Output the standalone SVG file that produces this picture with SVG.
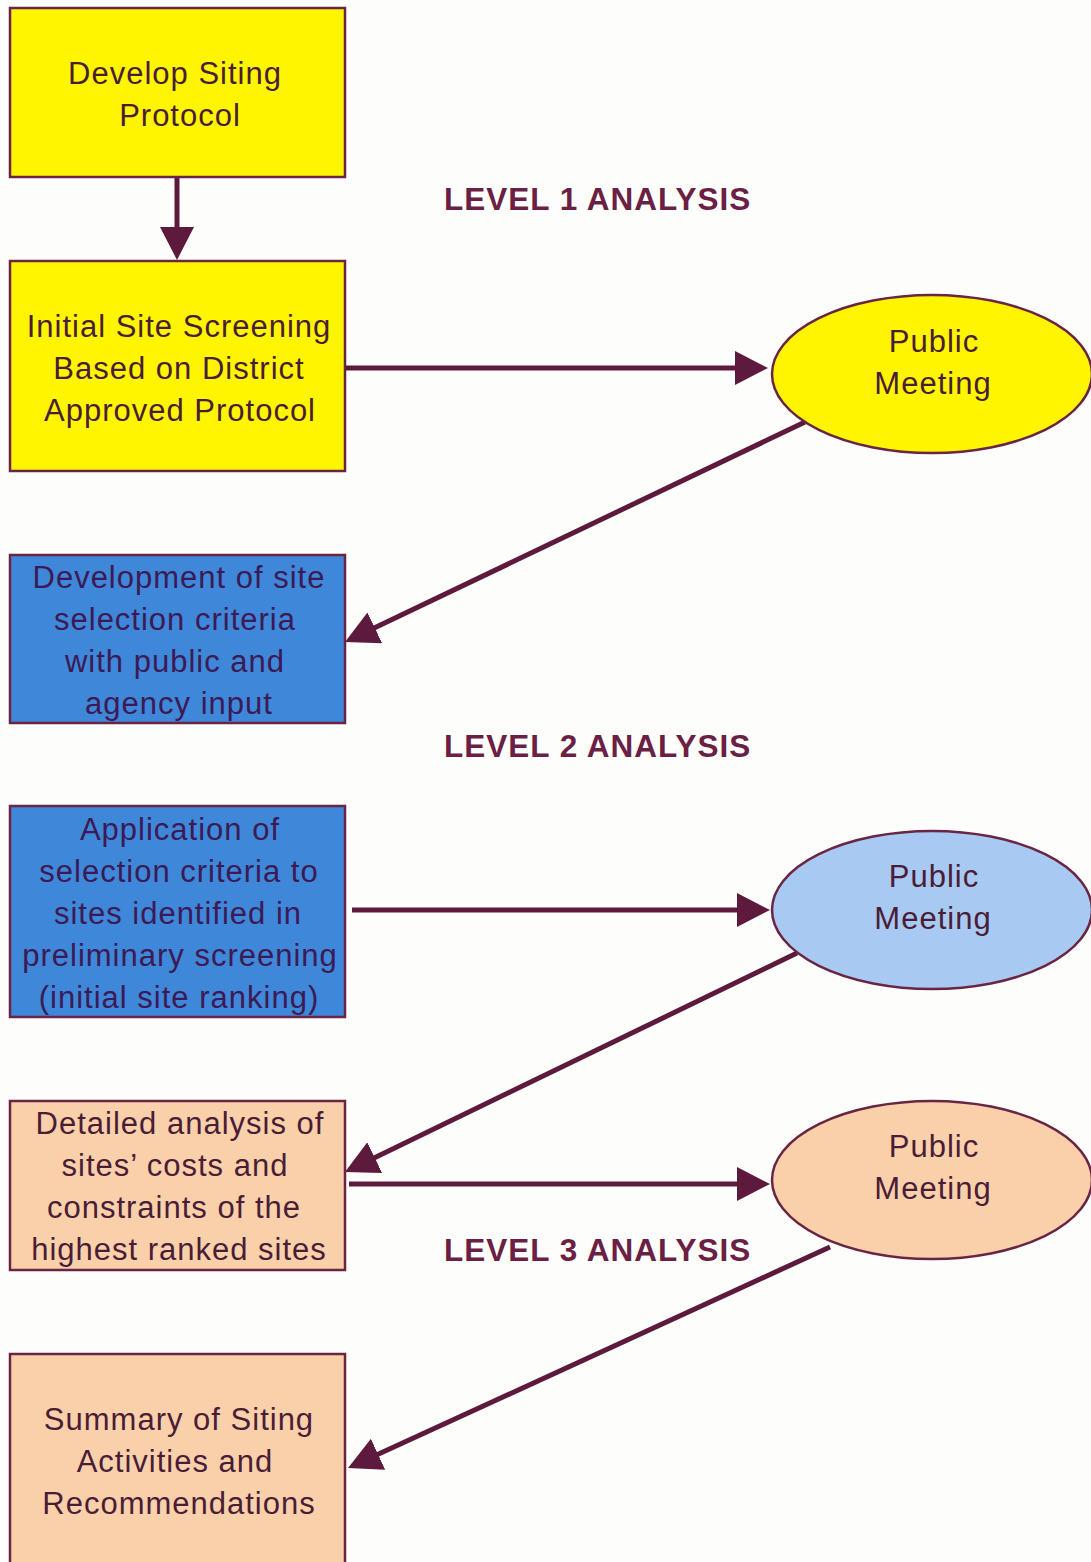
<svg xmlns="http://www.w3.org/2000/svg" width="1091" height="1562" viewBox="0 0 1091 1562">
<style>
.bg{fill:#fdfdfb}
.box{stroke:#6a2444;stroke-width:2.5}
.yel{fill:#fff500}
.blu{fill:#3f87d8}
.lbl{fill:#a8c9f1}
.pch{fill:#fad0ab}
.t{font-family:"Liberation Sans",Arial,sans-serif;font-size:31px;letter-spacing:1px;fill:#4a1d36;text-anchor:middle}
.tb{fill:#3b1a55}
.h{font-family:"Liberation Sans",Arial,sans-serif;font-size:31.5px;letter-spacing:1px;font-weight:bold;fill:#6b1f44}
.c{stroke:#5e1a3c;stroke-width:5;fill:none;marker-end:url(#ah)}
</style>
<defs>
<marker id="ah" markerUnits="userSpaceOnUse" markerWidth="33" markerHeight="34" viewBox="0 0 33 34" refX="3" refY="17" orient="auto">
<path d="M0,0 L33,17 L0,34 z" fill="#5e1a3c"/>
</marker>
</defs>
<rect class="bg" x="0" y="0" width="1091" height="1562"/>

<g id="connectors">
<line class="c" x1="177" y1="177" x2="177" y2="230"/>
<line class="c" x1="345" y1="368" x2="738" y2="368"/>
<line class="c" x1="805" y1="422" x2="372.1" y2="629.1"/>
<line class="c" x1="352" y1="910" x2="740" y2="910"/>
<line class="c" x1="797" y1="953" x2="372" y2="1158.9"/>
<line class="c" x1="349" y1="1184" x2="740" y2="1184"/>
<line class="c" x1="830" y1="1247" x2="375.3" y2="1455.5"/>
</g>

<g id="develop">
<rect class="box yel" x="10" y="8" width="335" height="169"/>
<text class="t" x="175" y="84">Develop Siting</text>
<text class="t" x="180" y="126">Protocol</text>
</g>

<g id="screening">
<rect class="box yel" x="10" y="261" width="335" height="210"/>
<text class="t" x="179" y="337">Initial Site Screening</text>
<text class="t" x="179" y="379">Based on District</text>
<text class="t" x="180" y="421">Approved Protocol</text>
</g>

<g id="meeting1">
<ellipse class="box yel" cx="932" cy="374" rx="160" ry="79"/>
<text class="t" x="934" y="352">Public</text>
<text class="t" x="933" y="394">Meeting</text>
</g>

<g id="criteria">
<rect class="box blu" x="10" y="555" width="335" height="168"/>
<text class="t tb" x="179" y="588">Development of site</text>
<text class="t tb" x="175" y="630">selection criteria</text>
<text class="t tb" x="175" y="672">with public and</text>
<text class="t tb" x="179" y="714">agency input</text>
</g>

<g id="level1"><text class="h" x="444" y="210">LEVEL 1 ANALYSIS</text></g>
<g id="level2"><text class="h" x="444" y="757">LEVEL 2 ANALYSIS</text></g>
<g id="level3"><text class="h" x="444" y="1261">LEVEL 3 ANALYSIS</text></g>

<g id="application">
<rect class="box blu" x="10" y="806" width="335" height="211"/>
<text class="t tb" x="180" y="840">Application of</text>
<text class="t tb" x="179" y="882">selection criteria to</text>
<text class="t tb" x="178" y="924">sites identified in</text>
<text class="t tb" x="180" y="966">preliminary screening</text>
<text class="t tb" x="179" y="1008">(initial site ranking)</text>
</g>

<g id="meeting2">
<ellipse class="box lbl" cx="932" cy="910" rx="160" ry="79"/>
<text class="t" x="934" y="887">Public</text>
<text class="t" x="933" y="929">Meeting</text>
</g>

<g id="detailed">
<rect class="box pch" x="10" y="1101" width="335" height="169"/>
<text class="t" x="180" y="1134">Detailed analysis of</text>
<text class="t" x="175" y="1176">sites’ costs and</text>
<text class="t" x="174" y="1218">constraints of the</text>
<text class="t" x="179" y="1260">highest ranked sites</text>
</g>

<g id="meeting3">
<ellipse class="box pch" cx="932" cy="1180" rx="160" ry="79"/>
<text class="t" x="934" y="1157">Public</text>
<text class="t" x="933" y="1199">Meeting</text>
</g>

<g id="summary">
<rect class="box pch" x="10" y="1354" width="335" height="220"/>
<text class="t" x="179" y="1430">Summary of Siting</text>
<text class="t" x="175" y="1472">Activities and</text>
<text class="t" x="179" y="1514">Recommendations</text>
</g>
</svg>
